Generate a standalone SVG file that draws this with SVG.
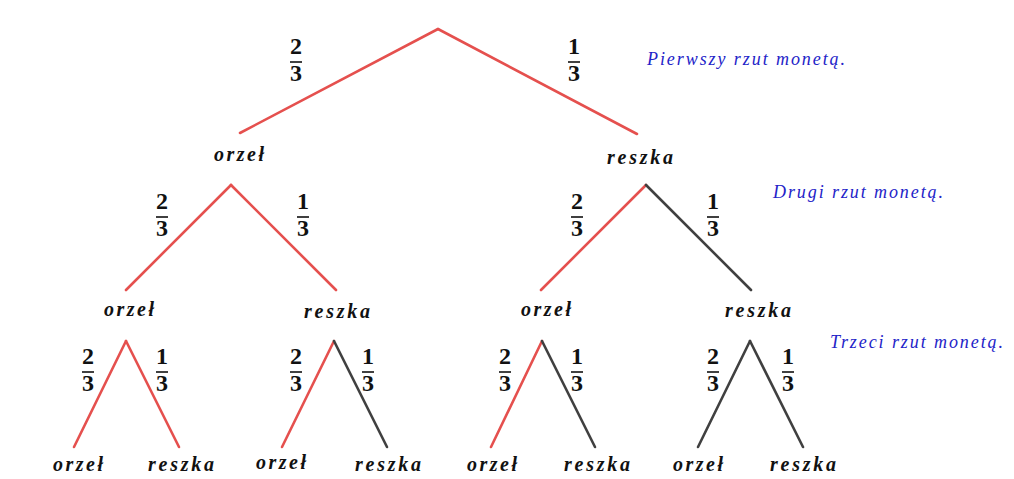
<svg xmlns="http://www.w3.org/2000/svg" width="1014" height="479" viewBox="0 0 1014 479">
<style>
.r{stroke:#e5504e;stroke-width:2.6;fill:none;stroke-linecap:round}
.k{stroke:#404040;stroke-width:2.6;fill:none;stroke-linecap:round}
.lb{font-family:"Liberation Serif",serif;font-weight:bold;font-style:italic;font-size:20px;fill:#111}
.fr{font-family:"Liberation Serif",serif;font-weight:bold;font-size:24px;fill:#111;text-anchor:middle}
.bar{stroke:#111;stroke-width:1.6}
.bl{font-family:"Liberation Serif",serif;font-style:italic;font-size:18px;fill:#2323c8}
</style>
<rect width="1014" height="479" fill="#fff"/>
<g id="connectors">
<line class="r" x1="438" y1="29" x2="240" y2="133"/>
<line class="r" x1="438" y1="29" x2="637" y2="134"/>
<line class="r" x1="231" y1="185" x2="126" y2="290"/>
<line class="r" x1="231" y1="185" x2="336" y2="290"/>
<line class="r" x1="646" y1="185" x2="541" y2="290"/>
<line class="k" x1="646" y1="185" x2="751" y2="290"/>
<line class="r" x1="126" y1="341" x2="74" y2="447"/>
<line class="r" x1="126" y1="341" x2="179" y2="447"/>
<line class="r" x1="334" y1="341" x2="282" y2="447"/>
<line class="k" x1="334" y1="341" x2="387" y2="447"/>
<line class="r" x1="542" y1="341" x2="491" y2="447"/>
<line class="k" x1="542" y1="341" x2="595" y2="447"/>
<line class="k" x1="750" y1="341" x2="698" y2="447"/>
<line class="k" x1="750" y1="341" x2="803" y2="447"/>
</g>
<g id="fractions">
<g><text class="fr" x="296" y="54">2</text><line class="bar" x1="290" y1="62" x2="302" y2="62"/><text class="fr" x="296" y="81">3</text></g>
<g><text class="fr" x="574" y="54">1</text><line class="bar" x1="568" y1="62" x2="580" y2="62"/><text class="fr" x="574" y="81">3</text></g>
<g><text class="fr" x="162" y="209">2</text><line class="bar" x1="156" y1="217" x2="168" y2="217"/><text class="fr" x="162" y="236">3</text></g>
<g><text class="fr" x="303" y="209">1</text><line class="bar" x1="297" y1="217" x2="309" y2="217"/><text class="fr" x="303" y="236">3</text></g>
<g><text class="fr" x="577" y="209">2</text><line class="bar" x1="571" y1="217" x2="583" y2="217"/><text class="fr" x="577" y="236">3</text></g>
<g><text class="fr" x="713" y="209">1</text><line class="bar" x1="707" y1="217" x2="719" y2="217"/><text class="fr" x="713" y="236">3</text></g>
<g><text class="fr" x="88" y="364">2</text><line class="bar" x1="82" y1="372" x2="94" y2="372"/><text class="fr" x="88" y="391">3</text></g>
<g><text class="fr" x="162" y="364">1</text><line class="bar" x1="156" y1="372" x2="168" y2="372"/><text class="fr" x="162" y="391">3</text></g>
<g><text class="fr" x="296" y="364">2</text><line class="bar" x1="290" y1="372" x2="302" y2="372"/><text class="fr" x="296" y="391">3</text></g>
<g><text class="fr" x="368" y="364">1</text><line class="bar" x1="362" y1="372" x2="374" y2="372"/><text class="fr" x="368" y="391">3</text></g>
<g><text class="fr" x="505" y="364">2</text><line class="bar" x1="499" y1="372" x2="511" y2="372"/><text class="fr" x="505" y="391">3</text></g>
<g><text class="fr" x="577" y="364">1</text><line class="bar" x1="571" y1="372" x2="583" y2="372"/><text class="fr" x="577" y="391">3</text></g>
<g><text class="fr" x="713" y="364">2</text><line class="bar" x1="707" y1="372" x2="719" y2="372"/><text class="fr" x="713" y="391">3</text></g>
<g><text class="fr" x="788" y="364">1</text><line class="bar" x1="782" y1="372" x2="794" y2="372"/><text class="fr" x="788" y="391">3</text></g>
</g>
<g id="n1o"><text class="lb" x="214" y="161" textLength="50" lengthAdjust="spacing">orzeł</text></g>
<g id="n1r"><text class="lb" x="607" y="164" textLength="66" lengthAdjust="spacing">reszka</text></g>
<g id="n2a"><text class="lb" x="104" y="316" textLength="50" lengthAdjust="spacing">orzeł</text></g>
<g id="n2b"><text class="lb" x="304" y="318" textLength="66" lengthAdjust="spacing">reszka</text></g>
<g id="n2c"><text class="lb" x="521" y="316" textLength="50" lengthAdjust="spacing">orzeł</text></g>
<g id="n2d"><text class="lb" x="725" y="317" textLength="66" lengthAdjust="spacing">reszka</text></g>
<g id="n3a"><text class="lb" x="53" y="471" textLength="50" lengthAdjust="spacing">orzeł</text></g>
<g id="n3b"><text class="lb" x="148" y="471" textLength="66" lengthAdjust="spacing">reszka</text></g>
<g id="n3c"><text class="lb" x="256" y="469" textLength="50" lengthAdjust="spacing">orzeł</text></g>
<g id="n3d"><text class="lb" x="355" y="471" textLength="66" lengthAdjust="spacing">reszka</text></g>
<g id="n3e"><text class="lb" x="467" y="471" textLength="50" lengthAdjust="spacing">orzeł</text></g>
<g id="n3f"><text class="lb" x="564" y="471" textLength="66" lengthAdjust="spacing">reszka</text></g>
<g id="n3g"><text class="lb" x="673" y="471" textLength="50" lengthAdjust="spacing">orzeł</text></g>
<g id="n3h"><text class="lb" x="770" y="471" textLength="66" lengthAdjust="spacing">reszka</text></g>
<g id="captions">
<text class="bl" x="647" y="65" textLength="198" lengthAdjust="spacing">Pierwszy rzut monetą.</text>
<text class="bl" x="773" y="198" textLength="170" lengthAdjust="spacing">Drugi rzut monetą.</text>
<text class="bl" x="830" y="348" textLength="173" lengthAdjust="spacing">Trzeci rzut monetą.</text>
</g>
</svg>
